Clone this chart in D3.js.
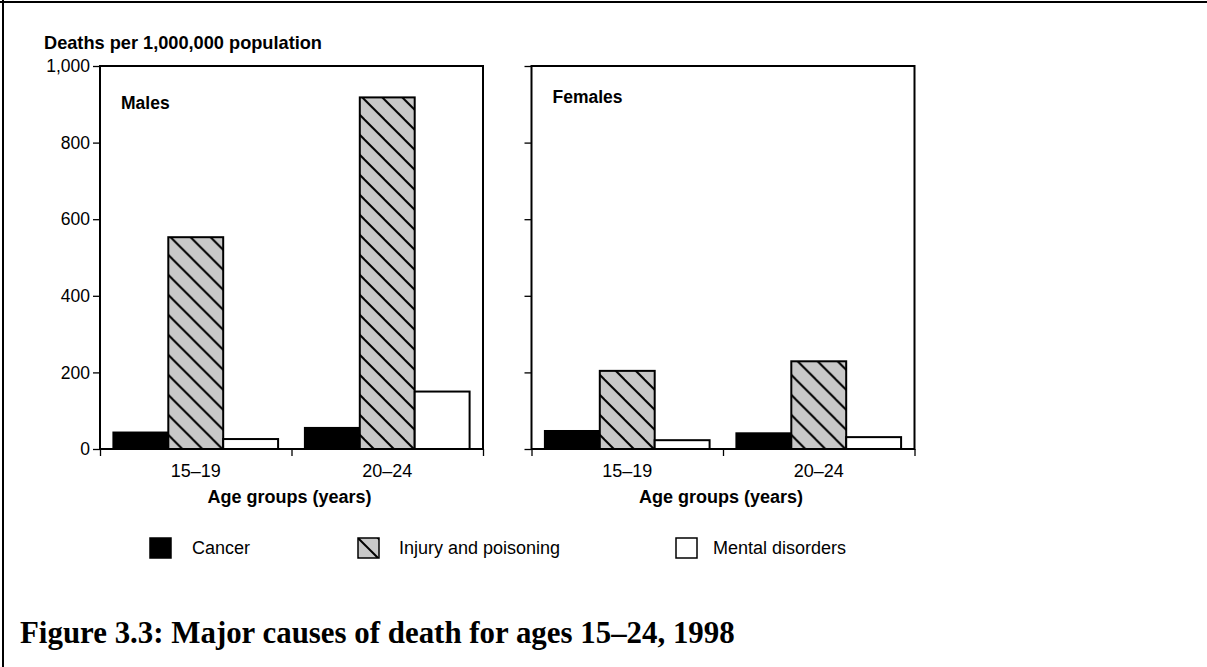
<!DOCTYPE html>
<html>
<head>
<meta charset="utf-8">
<script src="https://cdn.jsdelivr.net/npm/d3@7"></script>
<style>
  html, body { margin: 0; background: #fff; overflow: hidden; }
  svg { display: block; }
</style>
</head>
<body>
<div id="chart"></div>
<script>
// data
const ages = ["15–19", "20–24"];
const causes = ["Cancer", "Injury and poisoning", "Mental disorders"];
const maleCancer = [43, 55];
const maleInjury = [553, 918];
const maleMental = [26, 150];
const femaleCancer = [47, 41];
const femaleInjury = [204, 229];
const femaleMental = [23, 31];
const yTicks = [0, 200, 400, 600, 800, 1000];

const width = 1207, height = 667;
const panelW = 383;
const plotTop = 66, plotBottom = 449;
const sans = "'Liberation Sans', Arial, sans-serif";

const svg = d3.select("#chart").append("svg")
  .attr("width", width)
  .attr("height", height)
  .style("font-family", sans);

// hatch for injury bars
const defs = svg.append("defs");
const pat = defs.append("pattern")
  .attr("id", "hatch")
  .attr("patternUnits", "userSpaceOnUse")
  .attr("width", 20).attr("height", 20);
pat.append("rect").attr("width", 20).attr("height", 20).attr("fill", "#c8c8c8");
pat.selectAll("line")
  .data([[0, 0, 20, 20], [-5, 15, 5, 25], [15, -5, 25, 5]])
  .enter().append("line")
  .attr("x1", d => d[0]).attr("y1", d => d[1])
  .attr("x2", d => d[2]).attr("y2", d => d[3])
  .attr("stroke", "#000").attr("stroke-width", 2);

const fills = ["#000", "url(#hatch)", "#fff"];
const color = d3.scaleOrdinal().domain(causes).range(fills);

// outer page border (top and left only visible)
svg.append("line").attr("x1", 0).attr("x2", width).attr("y1", 2).attr("y2", 2)
  .attr("stroke", "#000").attr("stroke-width", 2);
svg.append("line").attr("x1", 3).attr("x2", 3).attr("y1", 0).attr("y2", height)
  .attr("stroke", "#000").attr("stroke-width", 2);

const y = d3.scaleLinear().domain([0, 1000]).range([plotBottom, plotTop]);

const panels = [
  { label: "Males", x0: 100, labelY: 109, showLabels: true, series: [maleCancer, maleInjury, maleMental] },
  { label: "Females", x0: 531.5, labelY: 103, showLabels: false, series: [femaleCancer, femaleInjury, femaleMental] }
];

const x0 = d3.scaleBand().domain(ages).range([0, panelW]).paddingInner(0.14).paddingOuter(0.07);
const x1 = d3.scaleBand().domain(causes).range([0, x0.bandwidth()]);

panels.forEach(p => {
  const g = svg.append("g").attr("transform", `translate(${p.x0},0)`);

  // y axis
  const yAxis = g.append("g")
    .call(d3.axisLeft(y).tickValues(yTicks).tickSize(7).tickPadding(3)
      .tickFormat(p.showLabels ? d3.format(",") : ""));
  yAxis.select(".domain").remove();
  yAxis.selectAll(".tick line").attr("stroke", "#000").attr("stroke-width", 1.3);
  yAxis.selectAll("text").attr("font-size", 17.5).attr("fill", "#000")
    .style("font-family", sans);

  // x axis ticks (edges and between groups)
  const xt = d3.scaleLinear().domain([0, 2]).range([0, panelW]);
  const xAxis = g.append("g").attr("transform", `translate(0,${plotBottom})`)
    .call(d3.axisBottom(xt).tickValues([0, 1, 2]).tickSize(7).tickFormat(""));
  xAxis.select(".domain").remove();
  xAxis.selectAll(".tick line").attr("stroke", "#000").attr("stroke-width", 1.3);

  // bars
  const groups = g.selectAll(".grp")
    .data(ages)
    .enter().append("g")
    .attr("class", "grp")
    .attr("transform", d => `translate(${x0(d)},0)`);

  groups.selectAll("rect")
    .data((a, i) => causes.map((c, j) => ({ cause: c, value: p.series[j][i] })))
    .enter().append("rect")
    .attr("x", d => x1(d.cause))
    .attr("y", d => y(d.value))
    .attr("width", x1.bandwidth())
    .attr("height", d => plotBottom - y(d.value))
    .attr("fill", d => color(d.cause))
    .attr("stroke", "#000")
    .attr("stroke-width", 2);

  // panel frame
  g.append("rect")
    .attr("x", 0).attr("y", plotTop)
    .attr("width", panelW).attr("height", plotBottom - plotTop)
    .attr("fill", "none").attr("stroke", "#000").attr("stroke-width", 2);

  // group labels
  g.selectAll(".agelab")
    .data(ages)
    .enter().append("text")
    .attr("class", "agelab")
    .attr("x", d => x0(d) + x0.bandwidth() / 2)
    .attr("y", 477)
    .attr("text-anchor", "middle")
    .attr("font-size", 18)
    .text(d => d);

  g.append("text")
    .attr("x", panelW / 2 - 2)
    .attr("y", 503)
    .attr("text-anchor", "middle")
    .attr("font-size", 18)
    .attr("font-weight", "bold")
    .text("Age groups (years)");

  g.append("text")
    .attr("x", 21)
    .attr("y", p.labelY)
    .attr("font-size", 17.5)
    .attr("font-weight", "bold")
    .text(p.label);
});

// y axis title
svg.append("text")
  .attr("x", 44).attr("y", 49)
  .attr("font-size", 18.2)
  .attr("font-weight", "bold")
  .text("Deaths per 1,000,000 population");

// legend
const legendX = [150, 358, 676];
const leg = svg.selectAll(".leg")
  .data(causes)
  .enter().append("g")
  .attr("class", "leg")
  .attr("transform", (d, i) => `translate(${legendX[i]},538)`);
leg.append("rect")
  .attr("width", 21).attr("height", 20)
  .attr("fill", d => color(d))
  .attr("stroke", "#000").attr("stroke-width", 1.5);
leg.append("text")
  .attr("x", d => d === "Cancer" ? 42 : (d === "Mental disorders" ? 37 : 41))
  .attr("y", 16)
  .attr("font-size", 18)
  .text(d => d);

// caption
const cap = svg.append("text")
  .attr("x", 20).attr("y", 643)
  .style("font-family", "Liberation Serif")
  .attr("font-size", 26)
  .attr("font-weight", "bold")
  .text("Figure 3.3: Major causes of death for ages 15–24, 1998");
// fit caption to the reference width
const capLen = cap.node().getComputedTextLength();
cap.attr("font-size", 26 * 715 / capLen);
</script>
</body>
</html>
